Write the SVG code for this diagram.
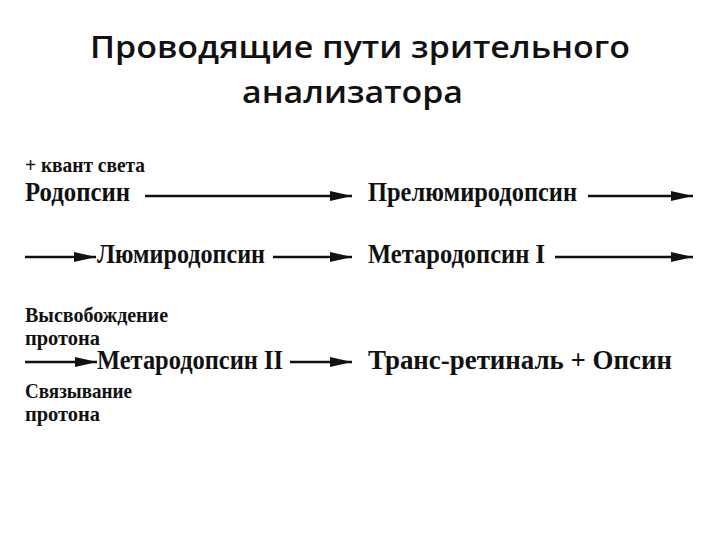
<svg xmlns="http://www.w3.org/2000/svg" width="720" height="540" viewBox="0 0 720 540">
<style>
.t{font-family:"Open Sans","Noto Sans",sans-serif;font-weight:600;font-size:31px;fill:#111}
.n{font-family:"Liberation Serif",serif;font-weight:bold;font-size:28px;fill:#111}
.s{font-family:"Liberation Serif",serif;font-weight:bold;font-size:21px;fill:#111}
.c line{stroke:#111;stroke-width:2.5}
</style>
<defs><marker id="a" markerUnits="userSpaceOnUse" markerWidth="24" markerHeight="12" refX="22" refY="6" orient="auto"><path d="M0,1 L22,6 L0,11 Z" fill="#111"/></marker></defs>
<rect width="720" height="540" fill="#fff"/>
<g id="title"><text class="t" x="90" y="58" textLength="540" lengthAdjust="spacingAndGlyphs">Проводящие пути зрительного</text><text class="t" x="242" y="103" textLength="221" lengthAdjust="spacingAndGlyphs">анализатора</text></g>
<g id="n1"><text class="s" x="25" y="172" textLength="120" lengthAdjust="spacingAndGlyphs">+ квант света</text><text class="n" x="25" y="201" textLength="105" lengthAdjust="spacingAndGlyphs">Родопсин</text></g>
<g id="n2"><text class="n" x="368" y="201" textLength="209" lengthAdjust="spacingAndGlyphs">Прелюмиродопсин</text></g>
<g id="n3"><text class="n" x="97" y="263" textLength="168" lengthAdjust="spacingAndGlyphs">Люмиродопсин</text></g>
<g id="n4"><text class="n" x="368" y="263" textLength="177" lengthAdjust="spacingAndGlyphs">Метародопсин I</text></g>
<g id="n5"><text class="s" x="25" y="322" textLength="143" lengthAdjust="spacingAndGlyphs">Высвобождение</text><text class="s" x="25" y="345" textLength="75" lengthAdjust="spacingAndGlyphs">протона</text><text class="n" x="97" y="369" textLength="186" lengthAdjust="spacingAndGlyphs">Метародопсин II</text><text class="s" x="25" y="398" textLength="107" lengthAdjust="spacingAndGlyphs">Связывание</text><text class="s" x="25" y="421" textLength="75" lengthAdjust="spacingAndGlyphs">протона</text></g>
<g id="n6"><text class="n" x="368" y="369" textLength="304" lengthAdjust="spacingAndGlyphs">Транс-ретиналь + Опсин</text></g>
<g class="c" id="connectors">
<line x1="145" y1="196" x2="352" y2="196" marker-end="url(#a)"/>
<line x1="588" y1="196" x2="693" y2="196" marker-end="url(#a)"/>
<line x1="25" y1="257" x2="96" y2="257" marker-end="url(#a)"/>
<line x1="273" y1="257" x2="352" y2="257" marker-end="url(#a)"/>
<line x1="555" y1="257" x2="693" y2="257" marker-end="url(#a)"/>
<line x1="25" y1="362" x2="97" y2="362" marker-end="url(#a)"/>
<line x1="290" y1="362" x2="352" y2="362" marker-end="url(#a)"/>
</g>
</svg>
